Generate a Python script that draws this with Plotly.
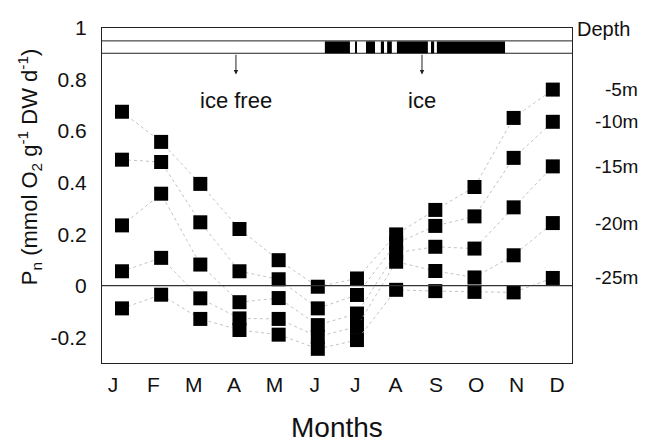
import plotly.graph_objects as go

# ---------------- data ----------------
month_idx = [1, 2, 3, 4, 5, 6, 7, 8, 9, 10, 11, 12]
month_labels = ['J', 'F', 'M', 'A', 'M', 'J', 'J', 'A', 'S', 'O', 'N', 'D']

pn_5m = [0.675, 0.558, 0.395, 0.220, 0.099, -0.004, 0.028, 0.199, 0.294, 0.383, 0.651, 0.761]
pn_10m = [0.489, 0.480, 0.246, 0.056, 0.025, -0.088, -0.036, 0.164, 0.232, 0.269, 0.496, 0.636]
pn_15m = [0.234, 0.357, 0.082, -0.064, -0.048, -0.153, -0.108, 0.128, 0.151, 0.144, 0.304, 0.463]
pn_20m = [0.056, 0.108, -0.049, -0.127, -0.129, -0.198, -0.159, 0.093, 0.057, 0.032, 0.118, 0.243]
pn_25m = [-0.088, -0.035, -0.129, -0.172, -0.190, -0.245, -0.211, -0.016, -0.021, -0.024, -0.026, 0.030]

series = [('-5m', pn_5m), ('-10m', pn_10m), ('-15m', pn_15m), ('-20m', pn_20m), ('-25m', pn_25m)]

# ice-cover periods (month units)
ice_start = [6.18, 6.95, 7.23, 7.61, 7.77, 8.02, 8.89, 9.04]
ice_end = [6.82, 7.00, 7.46, 7.69, 7.89, 8.81, 8.97, 10.78]

arrow_x = [3.91, 8.66]
arrow_text = ['ice free', 'ice']

yticks = [-0.2, 0, 0.2, 0.4, 0.6, 0.8, 1]
ytick_text = ['-0.2', '0', '0.2', '0.4', '0.6', '0.8', '1']

FONT = 'Liberation Sans, Arial, sans-serif'

fig = go.Figure()

for name, vals in series:
    fig.add_trace(go.Scatter(
        x=month_idx, y=vals, mode='lines+markers', name=name,
        line=dict(color='#b4b4b4', width=0.8, dash='dot'),
        marker=dict(symbol='square', size=14, color='black', line=dict(width=0)),
        showlegend=False, hoverinfo='skip'))

# invisible trace for the month label axis
fig.add_trace(go.Scatter(x=month_idx, y=[0] * 12, xaxis='x2', mode='markers',
                         marker=dict(opacity=0), showlegend=False, hoverinfo='skip'))

shapes = []
# zero line
shapes.append(dict(type='line', xref='paper', yref='y', x0=0, x1=1, y0=0, y1=0,
                   line=dict(color='#333333', width=1.3)))
# band lines
for yy in [0.95, 0.902]:
    shapes.append(dict(type='line', xref='paper', yref='y', x0=0, x1=1, y0=yy, y1=yy,
                       line=dict(color='#222222', width=1)))
# ice cover segments
for s, e in zip(ice_start, ice_end):
    shapes.append(dict(type='rect', xref='x', yref='y', x0=s, x1=e, y0=0.902, y1=0.948,
                       fillcolor='black', line=dict(width=0)))

annotations = []
for ax_, t in zip(arrow_x, arrow_text):
    annotations.append(dict(x=ax_, y=0.82, xref='x', yref='y', ax=ax_, ay=0.902,
                            axref='x', ayref='y', showarrow=True, arrowhead=2,
                            arrowsize=0.9, arrowwidth=1, arrowcolor='#222222', text=''))
    annotations.append(dict(x=ax_, y=0.72, xref='x', yref='y', text=t, showarrow=False,
                            font=dict(family=FONT, size=22, color='#111111')))

for name, vals in series:
    annotations.append(dict(x=1.145, y=vals[-1], xref='paper', yref='y', text=name,
                            xanchor='right', showarrow=False,
                            font=dict(family=FONT, size=19, color='#111111')))
annotations.append(dict(x=1.006, y=0.995, xref='paper', yref='y', text='Depth',
                        xanchor='left', showarrow=False,
                        font=dict(family=FONT, size=20, color='#111111')))
annotations.append(dict(x=0.5, y=-0.192, xref='paper', yref='paper', text='Months',
                        showarrow=False, xanchor='center', yanchor='middle',
                        font=dict(family=FONT, size=28, color='#111111')))
annotations.append(dict(x=-0.155, y=0.585, xref='paper', yref='paper', textangle=-90,
                        text='P<sub>n</sub> (mmol O<sub>2</sub> g<sup>-1</sup> DW d<sup>-1</sup>)',
                        showarrow=False, xanchor='center', yanchor='middle',
                        font=dict(family=FONT, size=22, color='#111111')))

fig.update_layout(
    width=647, height=446,
    margin=dict(l=102, r=75, t=28, b=83),
    paper_bgcolor='white', plot_bgcolor='white',
    xaxis=dict(range=[0.49, 12.49], showticklabels=False, showgrid=False, zeroline=False,
               showline=True, linecolor='#222222', linewidth=1, mirror=True, ticks=''),
    xaxis2=dict(range=[0.727, 12.372], overlaying='x', anchor='y', side='bottom',
                tickvals=month_idx, ticktext=month_labels, showgrid=False, zeroline=False,
                showline=False, ticks='', ticklabelstandoff=7,
                tickfont=dict(family=FONT, size=21, color='#111111')),
    yaxis=dict(range=[-0.3, 1.0], tickvals=yticks, ticktext=ytick_text, showgrid=False,
               zeroline=False, showline=True, linecolor='#222222', linewidth=1, mirror=True,
               ticks='', ticklabelstandoff=10,
               tickfont=dict(family=FONT, size=21, color='#111111')),
    annotations=annotations, shapes=shapes,
)

fig.write_html('out.html')
